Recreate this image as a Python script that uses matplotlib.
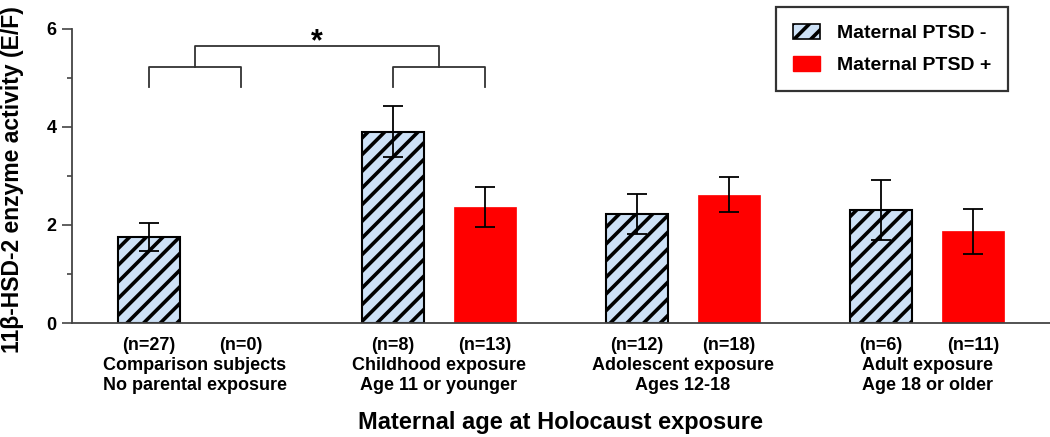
import numpy as np
import matplotlib
matplotlib.use("Agg")
import matplotlib.pyplot as plt
from matplotlib.patches import Patch
from matplotlib.transforms import blended_transform_factory

plt.rcParams['font.family'] = ['Liberation Sans', 'DejaVu Sans']
plt.rcParams['font.weight'] = 'bold'
plt.rcParams['hatch.linewidth'] = 2.6

groups = ["Comparison subjects\nNo parental exposure",
          "Childhood exposure\nAge 11 or younger",
          "Adolescent exposure\nAges 12-18",
          "Adult exposure\nAge 18 or older"]
minus_means = [1.75, 3.90, 2.23, 2.31]
minus_err = [0.29, 0.52, 0.41, 0.61]
plus_means = [np.nan, 2.36, 2.62, 1.87]
plus_err = [np.nan, 0.41, 0.35, 0.46]
n_minus = [27, 8, 12, 6]
n_plus = [0, 13, 18, 11]
series_labels = ["Maternal PTSD -", "Maternal PTSD +"]
y_label = "11\u03b2-HSD-2 enzyme activity (E/F)"
x_label = "Maternal age at Holocaust exposure"

W, H = 1050, 437
fig = plt.figure(figsize=(W / 100, H / 100), dpi=100)
ax = fig.add_axes([72 / W, 1 - 323 / H, 1 - 72 / W, (323 - 29) / H])

x = np.arange(len(groups))
off = 0.1885
w = 0.254
blue = '#cde1f6'
red = '#ff0000'

ax.bar(x - off, minus_means, w, color=blue, edgecolor='black', hatch='//',
       linewidth=1.5, zorder=2)
ax.bar(x + off, plus_means, w, color=red, edgecolor=red, linewidth=0.5, zorder=2)
ax.errorbar(x - off, minus_means, yerr=minus_err, fmt='none', ecolor='black',
            elinewidth=1.3, capsize=7.5, capthick=1.3, zorder=3)
ax.errorbar(x + off, plus_means, yerr=plus_err, fmt='none', ecolor='black',
            elinewidth=1.3, capsize=7.5, capthick=1.3, zorder=3)

ax.set_ylim(0, 6)
ax.set_xlim(-0.504, 3.504)
ax.set_yticks([0, 2, 4, 6])
ax.set_yticks([1, 3, 5], minor=True)
ax.tick_params(axis='y', which='major', length=7, width=1.2, labelsize=13,
               color='#444444', pad=4)
ax.tick_params(axis='y', which='minor', length=3.5, width=1.2, color='#444444')
ax.set_xticks([])
for s in ['top', 'right']:
    ax.spines[s].set_visible(False)
for s in ['left', 'bottom']:
    ax.spines[s].set_color('#444444')
    ax.spines[s].set_linewidth(1.3)

fig.text(13 / W, 1 - 180 / H, y_label, rotation=90, ha='center', va='center',
         fontsize=16.5, fontweight='bold')

tr = blended_transform_factory(ax.transData, fig.transFigure)
for i in range(len(groups)):
    ax.text(x[i] - off, 1 - 346 / H, f"(n={n_minus[i]})", transform=tr,
            ha='center', va='center', fontsize=13, fontweight='bold')
    ax.text(x[i] + off, 1 - 346 / H, f"(n={n_plus[i]})", transform=tr,
            ha='center', va='center', fontsize=13, fontweight='bold')
    line1, line2 = groups[i].split("\n")
    ax.text(x[i], 1 - 366 / H, line1, transform=tr,
            ha='center', va='center', fontsize=13, fontweight='bold')
    ax.text(x[i], 1 - 386 / H, line2, transform=tr,
            ha='center', va='center', fontsize=13, fontweight='bold')

fig.text(560 / W, 1 - 422 / H, x_label, ha='center', va='center', fontsize=17,
         fontweight='bold')

# significance brackets
bc = '#333333'
blw = 1.3
for g in [0, 1]:
    ax.plot([g - off, g - off, g + off, g + off], [4.81, 5.23, 5.23, 4.81],
            color=bc, lw=blw, clip_on=False)
ax.plot([0, 0, 1, 1], [5.23, 5.66, 5.66, 5.23], color=bc, lw=blw, clip_on=False)
ax.text(0.5, 5.72, "*", ha='center', va='center', fontsize=22, fontweight='bold')

handles = [Patch(facecolor=blue, edgecolor='black', hatch='//', linewidth=1.2),
           Patch(facecolor=red, edgecolor=red)]
leg = fig.legend(handles, series_labels, loc='upper left',
                 bbox_to_anchor=(776 / W, 1 - 7 / H),
                 frameon=True, fancybox=False,
                 prop={'weight': 'bold', 'size': 14},
                 handlelength=1.4, handleheight=0.85, handletextpad=0.9,
                 labelspacing=0.7, borderpad=0.85, borderaxespad=0)
leg.get_frame().set_edgecolor('black')
leg.get_frame().set_linewidth(1.6)

fig.savefig("out.png", dpi=100)
